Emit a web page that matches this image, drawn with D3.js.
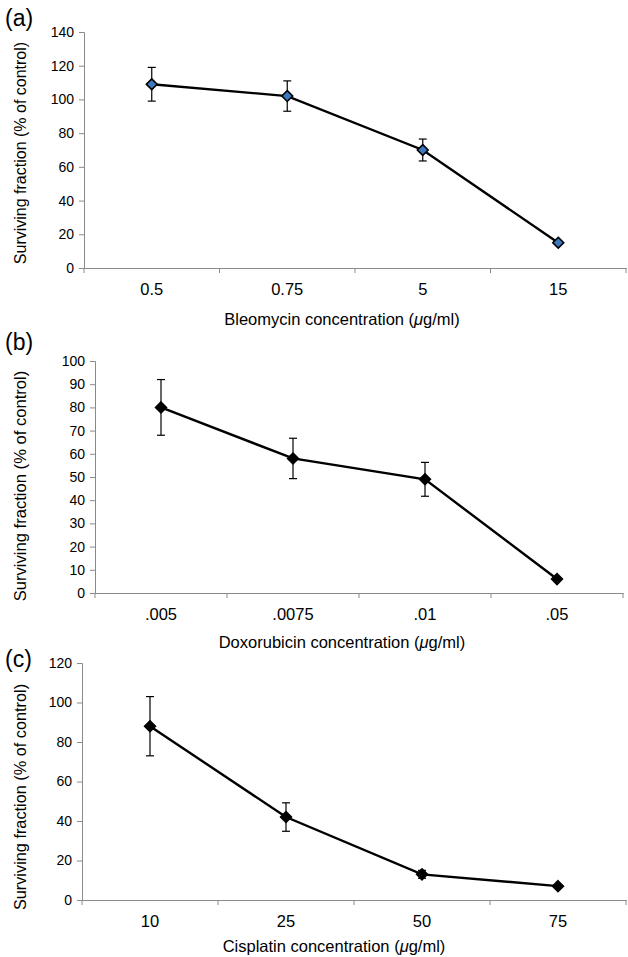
<!DOCTYPE html>
<html>
<head>
<meta charset="utf-8">
<script src="https://cdn.jsdelivr.net/npm/d3@7"></script>
<style>
  body { margin: 0; background: #fff; }
  svg text { font-family: "Liberation Sans", Arial, sans-serif; fill: #000; }
</style>
</head>
<body>
<div id="chart"></div>
<script>
// Data
const bleoDoses = ['0.5', '0.75', '5', '15']
const bleoValues = [109, 102, 70, 15]
const bleoErrors = [10, 9, 6.5, 1]

const doxoDoses = ['.005', '.0075', '.01', '.05']
const doxoValues = [80, 58, 49, 6]
const doxoErrors = [12, 8.7, 7.3, 0.5]

const cisDoses = ['10', '25', '50', '75']
const cisValues = [88, 42, 13, 7]
const cisErrors = [15, 7.2, 2, 0.6]

const bleoTicks = [0, 20, 40, 60, 80, 100, 120, 140]
const doxoTicks = [0, 10, 20, 30, 40, 50, 60, 70, 80, 90, 100]
const cisTicks = [0, 20, 40, 60, 80, 100, 120]

const width = 628, height = 957
const axisColor = '#8a8a8a'

let svg = d3.select('#chart')
  .append('svg')
  .attr('width', width)
  .attr('height', height)

// panel frames
const panels = [
  { label: '(a)', doses: bleoDoses, values: bleoValues, errors: bleoErrors, ticks: bleoTicks,
    xTitle: 'Bleomycin', left: 84, right: 626, top: 32, bottom: 268, fill: '#3d79bf',
    labelY: 26, titleX: 342, titleY: 325, yTitleY: 153, yTitleSize: 16 },
  { label: '(b)', doses: doxoDoses, values: doxoValues, errors: doxoErrors, ticks: doxoTicks,
    xTitle: 'Doxorubicin', left: 95, right: 623, top: 361, bottom: 593, fill: '#000',
    labelY: 350, titleX: 342, titleY: 648, yTitleY: 486, yTitleSize: 16.6 },
  { label: '(c)', doses: cisDoses, values: cisValues, errors: cisErrors, ticks: cisTicks,
    xTitle: 'Cisplatin', left: 82, right: 626, top: 663, bottom: 900, fill: '#000',
    labelY: 667, titleX: 334, titleY: 952, yTitleY: 797, yTitleSize: 16.3 }
]

let drawPanel = (p) => {
  const g = svg.append('g')
  const yMax = p.ticks[p.ticks.length - 1]

  const x = d3.scaleBand()
    .domain(p.doses)
    .range([p.left, p.right])

  const y = d3.scaleLinear()
    .domain([0, yMax])
    .range([p.bottom, p.top])

  // y axis
  const yAxis = g.append('g')
    .attr('transform', `translate(${p.left},0)`)
    .call(d3.axisLeft(y).tickValues(p.ticks).tickSize(5).tickPadding(5))
  yAxis.selectAll('text').style('font-size', '14px')

  // x axis, ticks at band edges
  const xAxis = g.append('g')
    .attr('transform', `translate(0,${p.bottom})`)
    .call(d3.axisBottom(x).tickSize(0).tickPadding(15))
  xAxis.selectAll('text').style('font-size', '16.5px')
  xAxis.selectAll('.edge')
    .data(p.doses.concat(['end']))
    .enter()
    .append('line')
    .attr('class', 'edge')
    .attr('x1', (d, i) => i < p.doses.length ? x(d) : p.right)
    .attr('x2', (d, i) => i < p.doses.length ? x(d) : p.right)
    .attr('y1', 0)
    .attr('y2', 5)
    .attr('stroke', axisColor)

  g.selectAll('.domain, .tick line').attr('stroke', axisColor)

  const cx = (d, i) => x(p.doses[i]) + x.bandwidth() / 2

  // error bars
  const eb = g.selectAll('.err')
    .data(p.values)
    .enter()
    .append('g')
    .attr('class', 'err')
  eb.append('line')
    .attr('x1', cx).attr('x2', cx)
    .attr('y1', (d, i) => y(d + p.errors[i]))
    .attr('y2', (d, i) => y(d - p.errors[i]))
    .attr('stroke', '#000').attr('stroke-width', 1.2)
  ;[1, -1].forEach(s => {
    eb.append('line')
      .attr('x1', (d, i) => cx(d, i) - 4).attr('x2', (d, i) => cx(d, i) + 4)
      .attr('y1', (d, i) => y(d + s * p.errors[i]))
      .attr('y2', (d, i) => y(d + s * p.errors[i]))
      .attr('stroke', '#000').attr('stroke-width', 1.2)
  })

  // line
  g.append('path')
    .datum(p.values)
    .attr('d', d3.line().x(cx).y(d => y(d)))
    .attr('fill', 'none')
    .attr('stroke', '#000')
    .attr('stroke-width', 2.4)

  // diamond markers
  g.selectAll('.mark')
    .data(p.values)
    .enter()
    .append('path')
    .attr('class', 'mark')
    .attr('d', d3.symbol(d3.symbolDiamond2, 75))
    .attr('transform', (d, i) => `translate(${cx(d, i)},${y(d)})`)
    .attr('fill', p.fill)
    .attr('stroke', '#000')
    .attr('stroke-width', 1.6)

  // titles
  g.append('text')
    .attr('x', p.titleX)
    .attr('y', p.titleY)
    .attr('text-anchor', 'middle')
    .style('font-size', '16.5px')
    .text(p.xTitle + ' concentration (')
    .append('tspan').style('font-style', 'italic').text('\u03bc')
    .select(function () { return this.parentNode })
    .append('tspan').text('g/ml)')

  g.append('text')
    .attr('transform', `translate(${14 + p.yTitleSize * 0.75},${p.yTitleY}) rotate(-90)`)
    .attr('text-anchor', 'middle')
    .style('font-size', p.yTitleSize + 'px')
    .text('Surviving fraction (% of control)')

  g.append('text')
    .attr('x', 5)
    .attr('y', p.labelY)
    .style('font-size', '23px')
    .text(p.label)
}

panels.forEach(drawPanel)
</script>
</body>
</html>
